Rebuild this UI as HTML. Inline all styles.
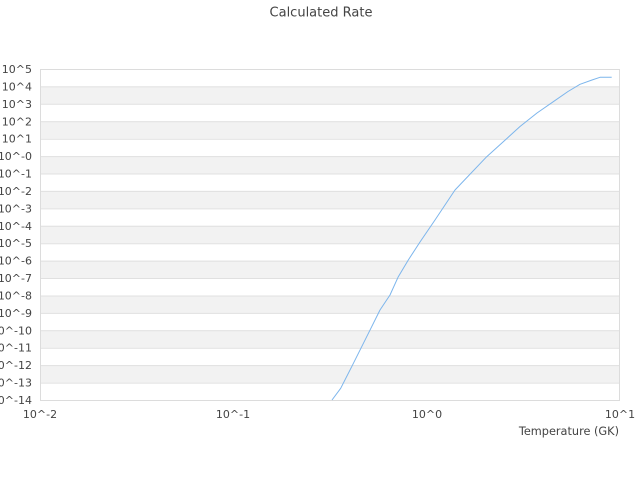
<!DOCTYPE html>
<html><head><meta charset="utf-8"><style>
html,body{margin:0;padding:0;background:#fff;}
svg{display:block;font-family:"DejaVu Sans","Liberation Sans",sans-serif;}
</style></head><body>
<svg width="640" height="480" viewBox="0 0 640 480" xmlns="http://www.w3.org/2000/svg">
<rect width="640" height="480" fill="#fff"/>
<text x="321" y="16.5" font-size="13" fill="#444" text-anchor="middle">Calculated Rate</text>
<g fill="#f2f2f2">
<rect x="40" y="86.42" width="580" height="17.42"/>
<rect x="40" y="121.26" width="580" height="17.42"/>
<rect x="40" y="156.11" width="580" height="17.42"/>
<rect x="40" y="190.95" width="580" height="17.42"/>
<rect x="40" y="225.79" width="580" height="17.42"/>
<rect x="40" y="260.63" width="580" height="17.42"/>
<rect x="40" y="295.47" width="580" height="17.42"/>
<rect x="40" y="330.32" width="580" height="17.42"/>
<rect x="40" y="365.16" width="580" height="17.42"/>
</g>
<g stroke="#e0e0e0" stroke-width="1">
<line x1="40" x2="620" y1="86.9" y2="86.9"/>
<line x1="40" x2="620" y1="104.3" y2="104.3"/>
<line x1="40" x2="620" y1="121.8" y2="121.8"/>
<line x1="40" x2="620" y1="139.2" y2="139.2"/>
<line x1="40" x2="620" y1="156.6" y2="156.6"/>
<line x1="40" x2="620" y1="174.0" y2="174.0"/>
<line x1="40" x2="620" y1="191.4" y2="191.4"/>
<line x1="40" x2="620" y1="208.9" y2="208.9"/>
<line x1="40" x2="620" y1="226.3" y2="226.3"/>
<line x1="40" x2="620" y1="243.7" y2="243.7"/>
<line x1="40" x2="620" y1="261.1" y2="261.1"/>
<line x1="40" x2="620" y1="278.5" y2="278.5"/>
<line x1="40" x2="620" y1="296.0" y2="296.0"/>
<line x1="40" x2="620" y1="313.4" y2="313.4"/>
<line x1="40" x2="620" y1="330.8" y2="330.8"/>
<line x1="40" x2="620" y1="348.2" y2="348.2"/>
<line x1="40" x2="620" y1="365.6" y2="365.6"/>
<line x1="40" x2="620" y1="383.1" y2="383.1"/>
</g>
<rect x="40.5" y="69.5" width="579" height="331" fill="none" stroke="#dcdcdc" stroke-width="1"/>
<polyline fill="none" stroke="#7cb5ec" stroke-width="1" stroke-linejoin="round" points="332,400 340.7,388.3 351.7,366.7 361.7,346.7 371.7,326.7 380,310 390,295 398.3,276.7 408.3,260 420,242 435,220 455,190 486.7,156.7 503,142 520,126.5 537,113 553.3,101.7 568,91.5 580,84.3 592,80 600,77.3 611.7,77.3"/>
<g font-size="11" fill="#444" text-anchor="end">
<text x="32" y="73">10^5</text>
<text x="32" y="90.4">10^4</text>
<text x="32" y="107.8">10^3</text>
<text x="32" y="125.3">10^2</text>
<text x="32" y="142.7">10^1</text>
<text x="32" y="160.1">10^-0</text>
<text x="32" y="177.5">10^-1</text>
<text x="32" y="194.9">10^-2</text>
<text x="32" y="212.4">10^-3</text>
<text x="32" y="229.8">10^-4</text>
<text x="32" y="247.2">10^-5</text>
<text x="32" y="264.6">10^-6</text>
<text x="32" y="282.0">10^-7</text>
<text x="32" y="299.5">10^-8</text>
<text x="32" y="316.9">10^-9</text>
<text x="32" y="334.3">10^-10</text>
<text x="32" y="351.7">10^-11</text>
<text x="32" y="369.1">10^-12</text>
<text x="32" y="386.6">10^-13</text>
<text x="32" y="404">10^-14</text>
</g>
<g font-size="11" fill="#444" text-anchor="middle">
<text x="40" y="418">10^-2</text>
<text x="233" y="418">10^-1</text>
<text x="427" y="418">10^0</text>
<text x="620" y="418">10^1</text>
</g>
<text x="619" y="435" font-size="11.3" fill="#444" text-anchor="end">Temperature (GK)</text>
</svg>
</body></html>
